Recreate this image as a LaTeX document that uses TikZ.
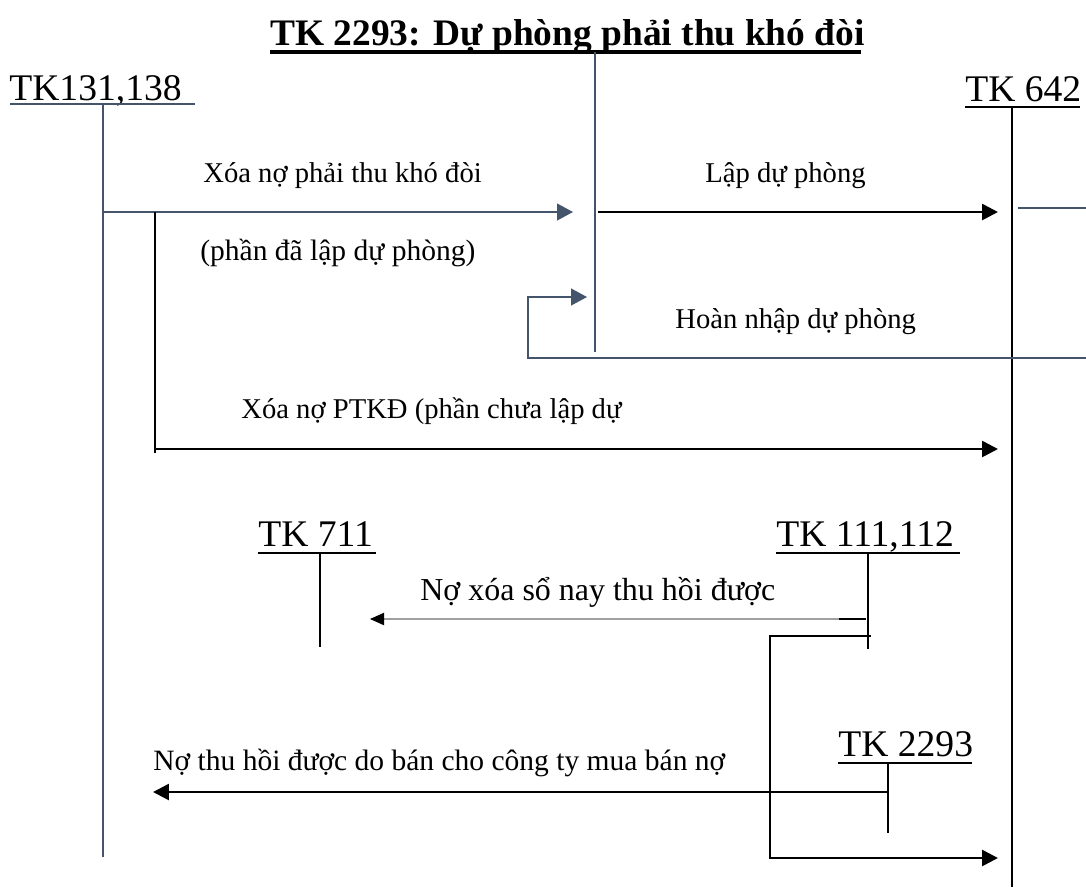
\documentclass[tikz,border=0pt]{standalone}
\usepackage{fontspec}
\setmainfont{Liberation Serif}
\usetikzlibrary{arrows.meta}
\definecolor{slate}{HTML}{44546A}
\definecolor{thingray}{HTML}{A0A0A0}
\begin{document}
\begin{tikzpicture}[x=0.02cm,y=-0.02cm,
  lbl/.style={anchor=base west,inner sep=0,font=\fontsize{16.3}{19}\selectfont},
  lblwide/.style={anchor=base west,inner sep=0,font=\fontsize{16.8}{19}\selectfont},
  lblbig/.style={anchor=base west,inner sep=0,font=\fontsize{18.2}{20}\selectfont},
  acc/.style={anchor=base west,inner sep=0,font=\fontsize{21.4}{24}\selectfont},
  ttl/.style={anchor=base west,inner sep=0,font=\bfseries\fontsize{21.3}{24}\selectfont},
  slateline/.style={draw=slate,line width=0.85pt},
  blackline/.style={draw=black,line width=0.9pt},
  slatearrow/.style={draw=slate,line width=0.9pt,-{Triangle[length=9pt,width=9.5pt,fill=slate]}},
  blackarrow/.style={draw=black,line width=1.5pt,-{Triangle[length=9pt,width=9pt]}},
  grayarrow/.style={draw=thingray,line width=0.6pt,-{Triangle[length=8pt,width=7pt,color=black,fill=black]}},
  ulthick/.style={draw=black,line width=1.8pt},
  ulmid/.style={draw=black,line width=1.1pt}
]
\useasboundingbox (0,0) rectangle (1086,887);

% title
\node[ttl] (title) at (270,45) {TK 2293: Dự phòng phải thu khó đòi};
\coordinate (tu1) at (270,52);
\coordinate (tu2) at (861,52);
\draw[ulthick] (tu1) -- (tu2);
\coordinate (mt) at (595,52);
\coordinate (mb) at (595,352);
\draw[slateline] (mt) -- (mb);

% T-accounts
\node[acc] (a131) at (9,100) {TK131,138};
\coordinate (u131a) at (10,104);
\coordinate (u131b) at (195,104);
\coordinate (v131t) at (103,104);
\coordinate (v131b) at (103,857);
\draw[slateline] (u131a) -- (u131b);
\draw[slateline] (v131t) -- (v131b);

\node[acc] (a642) at (965,101) {TK 642};
\coordinate (u642a) at (965,107);
\coordinate (u642b) at (1080,107);
\coordinate (v642t) at (1012,107);
\coordinate (v642b) at (1012,887);
\draw[ulmid] (u642a) -- (u642b);
\draw[blackline] (v642t) -- (v642b);

\node[acc] (a711) at (258,546) {TK 711};
\coordinate (u711a) at (258,553);
\coordinate (u711b) at (376,553);
\coordinate (v711t) at (320,553);
\coordinate (v711b) at (320,647);
\draw[ulmid] (u711a) -- (u711b);
\draw[blackline] (v711t) -- (v711b);

\node[acc] (a111) at (776,546) {TK 111,112};
\coordinate (u111a) at (776,553);
\coordinate (u111b) at (960,553);
\coordinate (v111t) at (868,553);
\coordinate (v111b) at (868,649);
\draw[ulmid] (u111a) -- (u111b);
\draw[blackline] (v111t) -- (v111b);

\node[acc] (a2293) at (838,756) {TK 2293};
\coordinate (u2293a) at (838,763);
\coordinate (u2293b) at (972,763);
\coordinate (v2293t) at (888,763);
\coordinate (v2293b) at (888,833);
\draw[ulmid] (u2293a) -- (u2293b);
\draw[blackline] (v2293t) -- (v2293b);

% flows
\coordinate (s1) at (103,212);
\coordinate (e1) at (573,212);
\draw[slatearrow] (s1) -- (e1);
\coordinate (v2t) at (155,212);
\coordinate (v2b) at (155,453);
\draw[blackline] (v2t) -- (v2b);

\coordinate (s2) at (598,212);
\coordinate (e2) at (998,212);
\draw[blackarrow] (s2) -- (e2);

\coordinate (r1) at (1018,208);
\coordinate (r2) at (1086,208);
\draw[slateline] (r1) -- (r2);

\coordinate (h0) at (1086,358);
\coordinate (h1) at (528,358);
\coordinate (h2) at (528,297);
\coordinate (h3) at (587,297);
\draw[slatearrow] (h0) -- (h1) -- (h2) -- (h3);

\coordinate (s3) at (155,449);
\coordinate (e3) at (998,449);
\draw[blackarrow] (s3) -- (e3);

\coordinate (d1) at (839,619);
\coordinate (d2) at (866,619);
\coordinate (e4) at (370,619);
\draw[grayarrow] (d1) -- (e4);
\draw[line width=1.6pt] (d1) -- (d2);

\coordinate (b0) at (871,636);
\coordinate (b1) at (770,636);
\coordinate (b2) at (770,858);
\coordinate (b3) at (998,858);
\draw[blackarrow] (b0) -- (b1) -- (b2) -- (b3);

\coordinate (s5) at (888,792);
\coordinate (e5) at (153,792);
\draw[blackarrow] (s5) -- (e5);

% labels
\node[lbl] (l1) at (203,182) {Xóa nợ phải thu khó đòi};
\node[lbl] (l2) at (705,182) {Lập dự phòng};
\node[lblwide] (l3) at (200,260) {(phần đã lập dự phòng)};
\node[lbl] (l4) at (675,328) {Hoàn nhập dự phòng};
\node[lbl] (l5) at (241,418) {Xóa nợ PTKĐ (phần chưa lập dự};
\node[lblbig] (l6) at (420,600) {Nợ xóa sổ nay thu hồi được};
\node[lblwide] (l7) at (153,770) {Nợ thu hồi được do bán cho công ty mua bán nợ};
\end{tikzpicture}
\end{document}
